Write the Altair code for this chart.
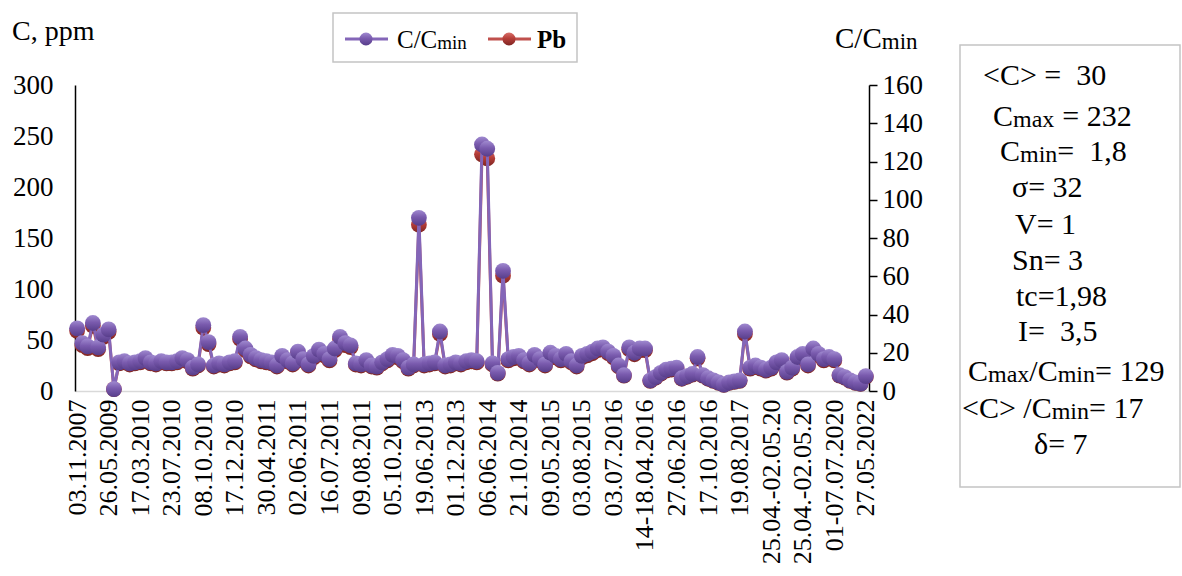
import altair as alt
import pandas as pd

# ---------------- data ----------------
labels = ["03.11.2007", "26.05.2009", "17.03.2010", "23.07.2010", "08.10.2010",
          "17.12.2010", "30.04.2011", "02.06.2011", "16.07.2011", "09.08.2011",
          "05.10.2011", "19.06.2013", "01.12.2013", "06.06.2014", "21.10.2014",
          "09.05.2015", "03.08.2015", "03.07.2016", "14-18.04.2016", "27.06.2016",
          "17.10.2016", "19.08.2017", "25.04.-02.05.20", "25.04.-02.05.20",
          "01-07.07.2020", "27.05.2022"]
label_step = 6

pb = [59, 45, 42, 64, 41, 53, 58, 1.8, 27, 28,
      26, 27, 28, 31, 27, 26, 28, 27, 27, 28,
      31, 29, 22, 25, 62, 46, 24, 26, 25, 27,
      28, 51, 40, 34, 31, 29, 28, 27, 24, 33,
      29, 26, 37, 30, 25, 33, 39, 35, 30, 40,
      51, 45, 43, 26, 25, 29, 24, 23, 27, 30,
      34, 33, 29, 22, 25, 163, 25, 26, 27, 56,
      24, 25, 27, 26, 28, 29, 28, 232, 228, 26,
      17, 113, 30, 32, 33, 29, 26, 34, 30, 25,
      36, 33, 30, 35, 28, 24, 33, 35, 37, 40,
      41, 37, 33, 24, 15, 41, 36, 40, 40, 10,
      13, 17, 20, 21, 22, 12, 14, 16, 32, 15,
      12, 10, 8, 6, 8, 9, 10, 56, 22, 24,
      22, 20, 22, 27, 29, 18, 22, 32, 35, 25,
      40, 35, 30, 32, 30, 15, 13, 10, 8, 7, 14]
c_min = 1.8  # the chart's own Cmin, C/Cmin = Pb / Cmin
ratio = [round(v / c_min, 2) for v in pb]

left_ticks = [0, 50, 100, 150, 200, 250, 300]
right_ticks = [0, 20, 40, 60, 80, 100, 120, 140, 160]

df = pd.DataFrame({"i": list(range(len(pb))), "pb": pb, "ratio": ratio})
one = pd.DataFrame({"k": [0]})

# ---------------- layout ----------------
OX, OY = 75, 85          # plot origin on the page
W, H = 794, 306
SERIF = "Liberation Serif"
PURPLE_LINE = "#8466B8"
RED_LINE = "#C0504D"

purple_ball = {"gradient": "linear", "x1": 0.5, "y1": 0, "x2": 0.5, "y2": 1,
               "stops": [{"offset": 0, "color": "#A08AD0"},
                         {"offset": 0.45, "color": "#7A5BAE"},
                         {"offset": 1, "color": "#573D8A"}]}
red_ball = {"gradient": "linear", "x1": 0.5, "y1": 0, "x2": 0.5, "y2": 1,
            "stops": [{"offset": 0, "color": "#D9706B"},
                      {"offset": 0.45, "color": "#B63E39"},
                      {"offset": 1, "color": "#7E2522"}]}

arr = "[" + ",".join("'" + s + "'" for s in labels) + "]"
x_axis = alt.Axis(values=list(range(0, len(pb), label_step)),
                  labelExpr=arr + "[round(datum.value / " + str(label_step) + ")]",
                  labelAngle=-90, labelFont=SERIF, labelFontSize=26, labelColor="black",
                  labelPadding=8, labelOverlap=False, labelFlush=False,
                  ticks=False, domainColor="#d9d9d9", domainWidth=1.5, grid=False)
x_enc = alt.X("i:Q", title=None,
              scale=alt.Scale(domain=[-0.4, len(pb) - 0.4], nice=False, zero=False),
              axis=x_axis)

left_axis = alt.Axis(values=left_ticks, labelFont=SERIF, labelFontSize=27,
                     labelColor="black", ticks=False, tickSize=0, labelPadding=22,
                     domainColor="black", domainWidth=1.5, grid=False)
right_axis = alt.Axis(orient="right", values=right_ticks, labelFont=SERIF,
                      labelFontSize=27, labelColor="black", ticks=True, tickSize=8,
                      tickColor="black", tickWidth=1.5, labelPadding=5,
                      domainColor="black", domainWidth=1.5, grid=False)

y_left = alt.Y("pb:Q", title=None, scale=alt.Scale(domain=[0, 300], nice=False),
               axis=left_axis)
y_right = alt.Y("ratio:Q", title=None, scale=alt.Scale(domain=[0, 160], nice=False),
                axis=right_axis)

base = alt.Chart(df).encode(x=x_enc)
left = alt.layer(
    base.mark_line(color=RED_LINE, strokeWidth=3).encode(y=y_left),
    base.mark_circle(color=red_ball, size=250, opacity=1).encode(y=y_left),
)
right = alt.layer(
    base.mark_line(color=PURPLE_LINE, strokeWidth=3).encode(y=y_right),
    base.mark_circle(color=purple_ball, size=250, opacity=1).encode(y=y_right),
)

# ---------------- annotations ----------------
WID = {'.': 0.25, ',': 0.25, ' ': 0.25, '\u00a0': 0.25, '=': 0.564, '<': 0.564,
       '>': 0.564, 'C': 0.667, 'm': 0.778, 'a': 0.444, 'x': 0.5, 'i': 0.278,
       'n': 0.5, '/': 0.278, 'σ': 0.54, 'V': 0.722, 'S': 0.556, 't': 0.278,
       'c': 0.444, 'I': 0.333, 'δ': 0.5, 'P': 0.556, 'b': 0.5, 'p': 0.5}


def text_w(s, size):
    return sum(WID.get(ch, 0.5) for ch in s) * size


def T(s, x, y, size, bold=False, align="left", baseline="alphabetic"):
    return alt.Chart(one).mark_text(
        text=s, font=SERIF, fontSize=size, fontWeight=("bold" if bold else "normal"),
        align=align, baseline=baseline, color="black"
    ).encode(x=alt.value(x - OX), y=alt.value(y - OY))


def segs(x0, ybase, parts, big, small):
    """parts: (text, is_small, gap_before_px)"""
    out = []
    pos = x0
    for s, sm, gap in parts:
        size = small if sm else big
        pos += gap
        out.append(T(s, pos, ybase + (1 if sm else 0), size))
        pos += text_w(s, size)
    return out


def rect(x1, y1, x2, y2, stroke):
    return alt.Chart(one).mark_rect(fill="white", stroke=stroke, strokeWidth=1.5).encode(
        x=alt.value(x1 - OX), x2=alt.value(x2 - OX),
        y=alt.value(y1 - OY), y2=alt.value(y2 - OY))


def hline(x1, x2, y, color):
    return alt.Chart(one).mark_rule(color=color, strokeWidth=3).encode(
        x=alt.value(x1 - OX), x2=alt.value(x2 - OX), y=alt.value(y - OY))


def ball(x, y, fill):
    return alt.Chart(one).mark_circle(color=fill, size=170, opacity=1).encode(
        x=alt.value(x - OX), y=alt.value(y - OY))


NB = "\u00a0"
ann = []
# axis titles
ann.append(T("C," + NB + "ppm", 12, 40, 28))
ann += segs(835, 48, [("C/C", 0, 0), ("min", 1, 0)], 29, 23)
# legend
ann.append(rect(333, 13, 577, 62, "#c4c4c4"))
ann.append(hline(345, 388, 39, PURPLE_LINE))
ann.append(ball(366, 39, purple_ball))
ann += segs(397, 48, [("C/C", 0, 0), ("min", 1, 0)], 25, 19)
ann.append(hline(488, 531, 39, RED_LINE))
ann.append(ball(509, 39, red_ball))
ann.append(T("Pb", 537, 48, 25, bold=True))
# statistics box
ann.append(rect(960, 45, 1180, 487, "#c4c4c4"))
stats = [
    (983, 75, [("<C>" + NB + "=" + NB + NB + "30", 0, 0)]),
    (993, 116, [("C", 0, 0), ("max", 1, 0), ("=" + NB + "232", 0, 8)]),
    (1000, 151, [("C", 0, 0), ("min", 1, 0), ("=" + NB + NB + "1,8", 0, 0)]),
    (1012, 187, [("σ=" + NB + "32", 0, 0)]),
    (1015, 224, [("V=" + NB + "1", 0, 0)]),
    (1012, 260, [("Sn=" + NB + "3", 0, 0)]),
    (1016, 296, [("tc=1,98", 0, 0)]),
    (1018, 331, [("I=" + NB + NB + "3,5", 0, 0)]),
    (968, 371, [("C", 0, 0), ("max", 1, 0), ("/C", 0, 0), ("min", 1, 0),
                ("=" + NB + "129", 0, 0)]),
    (962, 408, [("<C>" + NB + "/C", 0, 0), ("min", 1, 0), ("=" + NB + "17", 0, 0)]),
    (1034, 444, [("δ=" + NB + "7", 0, 0)]),
]
for x0, yc, parts in stats:
    ann += segs(x0, yc + 10, parts, 30, 24)

chart = alt.layer(left, right, *ann).resolve_scale(y="independent").properties(
    width=W, height=H,
    autosize=alt.AutoSizeParams(type="none"),
    padding={"left": OX, "top": OY, "right": 1182 - OX - W, "bottom": 576 - OY - H},
    background="white",
).configure_view(stroke="transparent")

chart.save("out.html", embed_options={"renderer": "svg", "actions": False})
